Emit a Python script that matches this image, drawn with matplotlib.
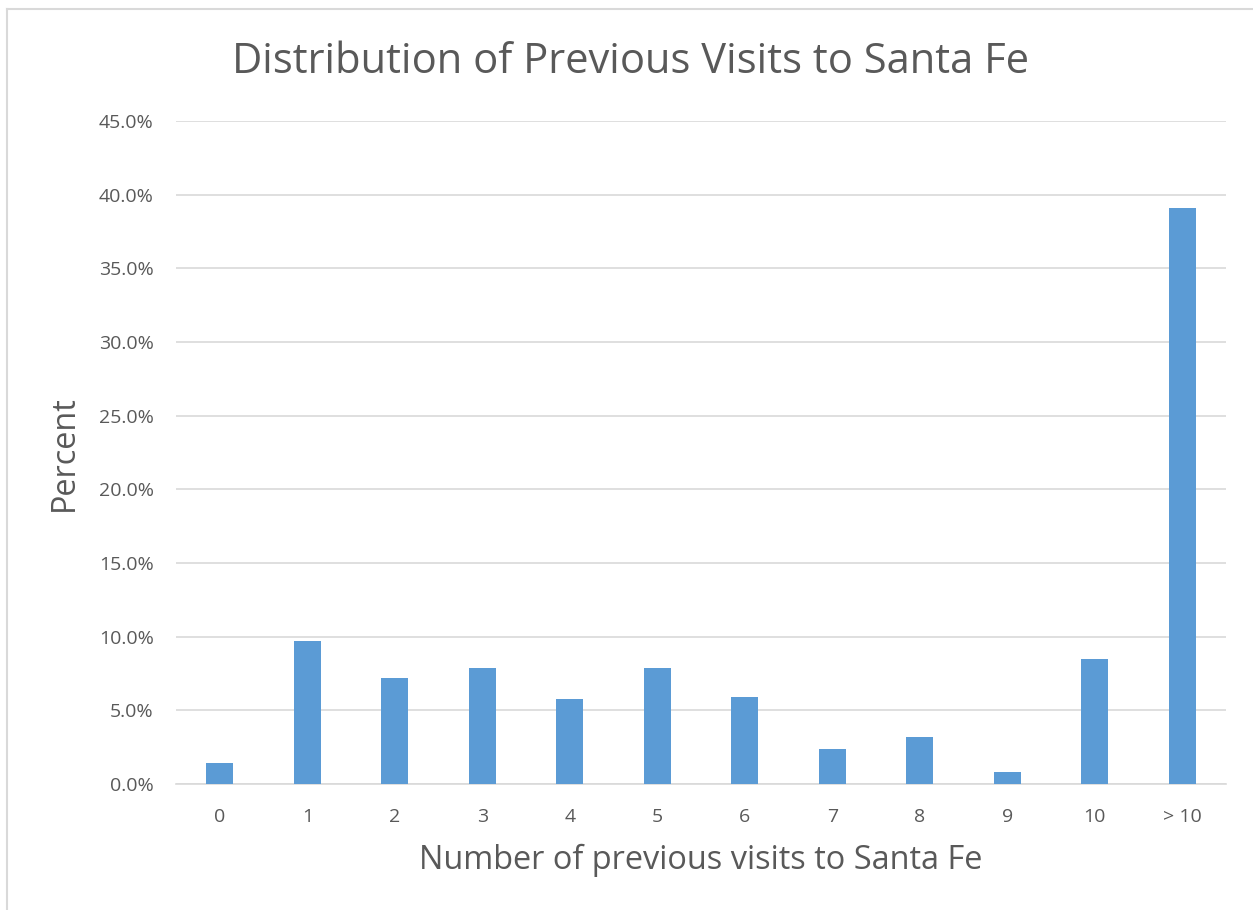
import matplotlib
matplotlib.use("Agg")
import matplotlib.pyplot as plt
from matplotlib.lines import Line2D
from matplotlib.ticker import FuncFormatter, MultipleLocator

categories = ["0", "1", "2", "3", "4", "5", "6", "7", "8", "9", "10", "> 10"]
percent = [1.4, 9.7, 7.2, 7.9, 5.8, 7.9, 5.9, 2.4, 3.2, 0.8, 8.5, 39.1]

title = "Distribution of Previous Visits to Santa Fe"
xlabel = "Number of previous visits to Santa Fe"
ylabel = "Percent"

bar_color = "#5B9BD5"
text_color = "#595959"
grid_color = "#D9D9D9"

plt.rcParams["font.family"] = ["Open Sans", "DejaVu Sans"]

W, H = 1253, 910
fig = plt.figure(figsize=(W / 100, H / 100), dpi=100)
ax = fig.add_axes([176 / W, 1 - 784 / H, (1226 - 176) / W, (784 - 121) / H])

x = list(range(len(categories)))
ax.bar(x, percent, width=0.31, color=bar_color, zorder=3)

ax.set_xlim(-0.5, len(categories) - 0.5)
ax.set_ylim(0, 45)
ax.yaxis.set_major_locator(MultipleLocator(5))
ax.yaxis.set_major_formatter(FuncFormatter(lambda v, _: f"{v:.1f}%"))
ax.set_xticks(x)
ax.set_xticklabels(categories)

ax.grid(axis="y", color=grid_color, linewidth=1.2, zorder=0)
for side in ("top", "right", "left"):
    ax.spines[side].set_visible(False)
ax.spines["bottom"].set_color(grid_color)
ax.spines["bottom"].set_linewidth(1.2)
ax.tick_params(axis="both", length=0, labelsize=14, colors=text_color)
ax.tick_params(axis="y", pad=16)
ax.tick_params(axis="x", pad=17)

fig.text(701 / W, 1 - 860 / H, xlabel, fontsize=23.4, color=text_color,
         ha="center", va="center")
fig.text(64 / W, 1 - 453 / H, ylabel, fontsize=23.4, color=text_color,
         ha="center", va="center", rotation=90)
fig.text(631 / W, 1 - 62 / H, title, fontsize=30, color=text_color,
         ha="center", va="center")

# chart area border (top and left edges visible)
fig.add_artist(Line2D([7 / W, 1.0], [1 - 9 / H, 1 - 9 / H],
                      transform=fig.transFigure, color=grid_color, linewidth=1.5))
fig.add_artist(Line2D([7 / W, 7 / W], [0.0, 1 - 9 / H],
                      transform=fig.transFigure, color=grid_color, linewidth=1.5))

fig.savefig("out.png", dpi=100, facecolor="white")
